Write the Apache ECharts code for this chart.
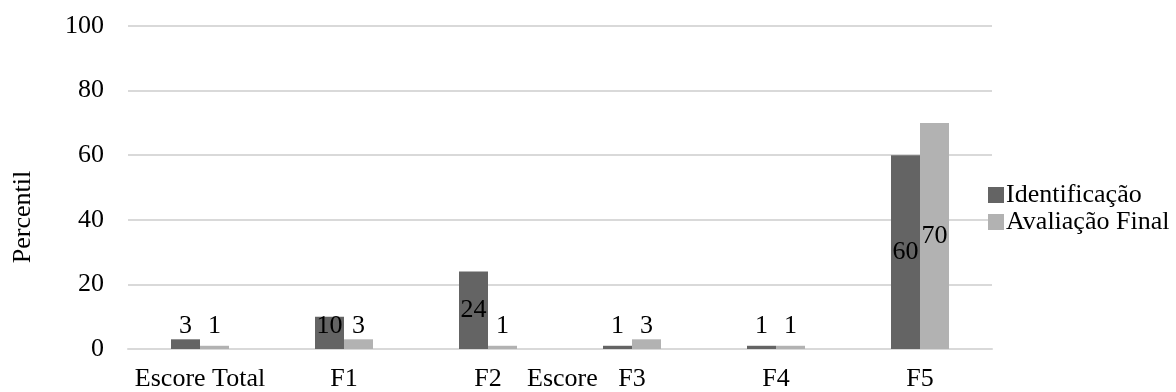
<!DOCTYPE html>
<html>
<head>
<meta charset="utf-8">
<script src="https://cdn.jsdelivr.net/npm/echarts@6/dist/echarts.min.js"></script>
<style>html,body{margin:0;padding:0;background:#fff}#c{width:1176px;height:392px}</style>
</head>
<body>
<div id="c"></div>
<script>
const categories = ['Escore Total', 'F1', 'F2', 'F3', 'F4', 'F5'];
const identificacao = [3, 10, 24, 1, 1, 60];
const avaliacaoFinal = [1, 3, 1, 3, 1, 70];
const seriesNames = ['Identificação', 'Avaliação Final'];
const yTicks = [0, 20, 40, 60, 80, 100];
const yTitle = 'Percentil';
const strayLabel = 'Escore';

const FONT = '"Liberation Serif", "Times New Roman", serif';
const FS = 26;
const XMARGIN = 17;
function mkData(arr) {
  return arr.map(v => ({
    value: v,
    label: v >= 20 ? { position: 'inside' } : { position: 'insideBottom', distance: 10 }
  }));
}
const chart = echarts.init(document.getElementById('c'), null, { renderer: 'canvas' });
chart.setOption({
  animation: false,
  textStyle: { fontFamily: FONT },
  grid: { left: 128, right: 184, top: 26, bottom: 43 },
  legend: {
    orient: 'vertical', left: 983, top: 177,
    itemWidth: 16, itemHeight: 16, itemGap: 1,
    icon: 'rect',
    textStyle: { fontFamily: FONT, fontSize: FS, color: '#000', padding: [0, 0, 0, -3] },
    data: seriesNames
  },
  xAxis: {
    type: 'category', data: categories,
    axisLine: { lineStyle: { color: '#d9d9d9', width: 2 } },
    axisTick: { show: false },
    axisLabel: { interval: 0, fontFamily: FONT, fontSize: FS, color: '#000', margin: XMARGIN }
  },
  yAxis: {
    type: 'value', min: yTicks[0], max: yTicks[yTicks.length - 1], interval: 20,
    axisLine: { show: false }, axisTick: { show: false },
    axisLabel: { fontFamily: FONT, fontSize: FS, color: '#000', margin: 24 },
    splitLine: { lineStyle: { color: '#d9d9d9', width: 2 } }
  },
  graphic: [
    {
      type: 'text', left: 527, top: 349 + XMARGIN,
      style: { text: strayLabel, font: FS + 'px ' + FONT, fill: '#000' }
    },
    {
      type: 'text', x: 23, y: 217, rotation: Math.PI / 2,
      style: { text: yTitle, font: FS + 'px ' + FONT, fill: '#000', align: 'center', verticalAlign: 'middle' }
    }
  ],
  series: [
    {
      name: seriesNames[0], type: 'bar', data: mkData(identificacao),
      barWidth: 29, barGap: '0%',
      itemStyle: { color: '#646464' },
      label: { show: true, fontFamily: FONT, fontSize: FS, color: '#000' }
    },
    {
      name: seriesNames[1], type: 'bar', data: mkData(avaliacaoFinal),
      barWidth: 29, barGap: '0%',
      itemStyle: { color: '#b2b2b2' },
      label: { show: true, fontFamily: FONT, fontSize: FS, color: '#000' }
    }
  ]
});
</script>
</body>
</html>
